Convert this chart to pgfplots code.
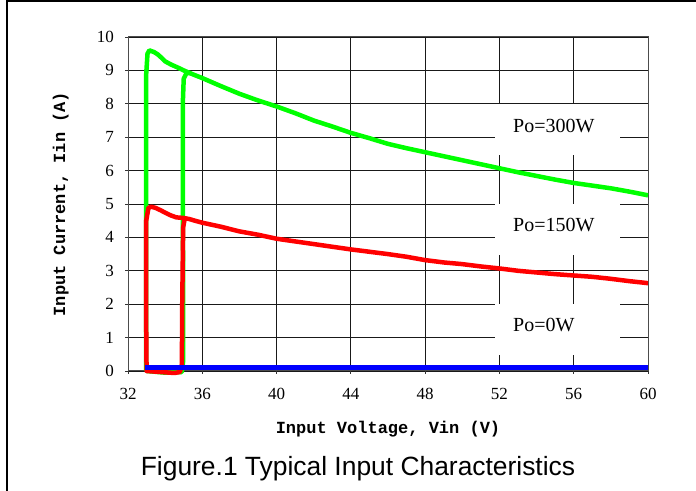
\documentclass[border=0pt]{standalone}
\usepackage{fontspec}
\setmainfont{Liberation Serif}
\newfontfamily\monofont{Liberation Mono}
\newfontfamily\capfont{Liberation Sans}
\usepackage{pgfplots}
\pgfplotsset{compat=1.18}
\definecolor{curvegreen}{RGB}{0,255,0}
\definecolor{curvered}{RGB}{255,0,0}
\definecolor{curveblue}{RGB}{0,0,255}
\begin{document}
\begin{tikzpicture}
\path[use as bounding box] (0,0) rectangle (696bp,491bp);
\draw[line width=2.3bp] (7bp,0) -- (7bp,490bp) -- (696bp,490bp);
\begin{axis}[
  at={(128bp,120bp)}, anchor=south west,
  scale only axis, width=520bp, height=334bp,
  xmin=32, xmax=60, ymin=0, ymax=10,
  xtick={32,36,...,60}, ytick={0,1,...,10},
  grid=major, major grid style={black!90, line width=0.8bp},
  axis line style={black!70, line width=1bp},
  tick pos=left, tick align=outside, major tick length=3bp,
  tick style={black!80, line width=0.8bp},
  ticklabel style={font=\fontsize{17bp}{19bp}\selectfont, inner sep=0pt},
  /pgf/number format/assume math mode=true,
  yticklabel style={anchor=east, xshift=-11bp},
  xticklabel style={anchor=north, yshift=-14bp},
  clip=false,
]
% label boxes over the grid
\fill[white] (axis cs:51.76,6.46) rectangle (axis cs:58.49,8.0);
\fill[white] (axis cs:51.76,3.46) rectangle (axis cs:58.49,5.0);
\fill[white] (axis cs:51.76,0.48) rectangle (axis cs:58.49,2.0);
\node[anchor=west, inner sep=0pt, font=\fontsize{20bp}{22bp}\selectfont] at (axis cs:52.73,7.34) {Po=300W};
\node[anchor=west, inner sep=0pt, font=\fontsize{20bp}{22bp}\selectfont] at (axis cs:52.73,4.37) {Po=150W};
\node[anchor=west, inner sep=0pt, font=\fontsize{20bp}{22bp}\selectfont] at (axis cs:52.73,1.38) {Po=0W};
% Po=300W
\addplot[curvegreen, line width=4.5bp, line join=round] coordinates {
 (33.0,0) (34.0,-0.05) (34.9,-0.03) (34.97,0.3) (34.95,8.0) (35.0,8.75) (35.15,8.92) (35.4,8.92)};
\addplot[curvegreen, line width=4.5bp, line join=round] coordinates {
 (32.97,0) (32.97,8.8) (33.05,9.5) (33.15,9.6) (33.4,9.55) (33.6,9.48) (33.8,9.38)
 (34.0,9.27) (34.3,9.18) (34.7,9.08) (35.0,9.0) (35.5,8.88) (36,8.77) (37,8.53)
 (38,8.3) (39,8.1) (40,7.92) (41,7.72) (42,7.5) (43,7.32) (44,7.13) (45,6.97)
 (46,6.8) (47,6.67) (48,6.55) (49,6.43) (50,6.31) (51,6.19) (52,6.07) (53,5.95)
 (54,5.84) (55,5.73) (56,5.63) (57,5.55) (58,5.47) (59,5.37) (60,5.26)};
% Po=150W
\addplot[curvered, line width=4.5bp, line join=round] coordinates {
 (35.05,4.55) (34.97,4.3) (34.92,2) (34.9,0.2) (34.8,-0.03) (34.5,-0.06) (34.0,-0.04)
 (33.5,-0.02) (33.0,0.0) (32.97,2) (32.98,4.5) (33.1,4.88) (33.25,4.92) (33.5,4.88)
 (33.8,4.8) (34.0,4.74) (34.3,4.66) (34.6,4.6) (35.0,4.58) (35.3,4.55) (35.6,4.5)
 (36,4.44) (37,4.32) (38,4.18) (39,4.08) (40,3.96) (41,3.88) (42,3.8) (43,3.72)
 (44,3.64) (45,3.57) (46,3.5) (47,3.42) (48,3.32) (49,3.25) (50,3.2) (51,3.13)
 (52,3.07) (53,3.0) (54,2.95) (55,2.9) (56,2.86) (57,2.82) (58,2.76) (59,2.69) (60,2.63)};
% Po=0W
\addplot[curveblue, line width=4.5bp] coordinates {(32.93,0.1) (60,0.1)};
\end{axis}
\node[anchor=base, rotate=90, font=\monofont\bfseries\fontsize{17bp}{19bp}\selectfont] at (65bp,287bp) {Input Current, Iin (A)};
\node[anchor=base, font=\monofont\bfseries\fontsize{17bp}{19bp}\selectfont] at (388bp,57bp) {Input Voltage, Vin (V)};
\node[anchor=base, font=\capfont\fontsize{26.4bp}{28bp}\selectfont] at (358bp,16bp) {Figure.1 Typical Input Characteristics};
\end{tikzpicture}
\end{document}
